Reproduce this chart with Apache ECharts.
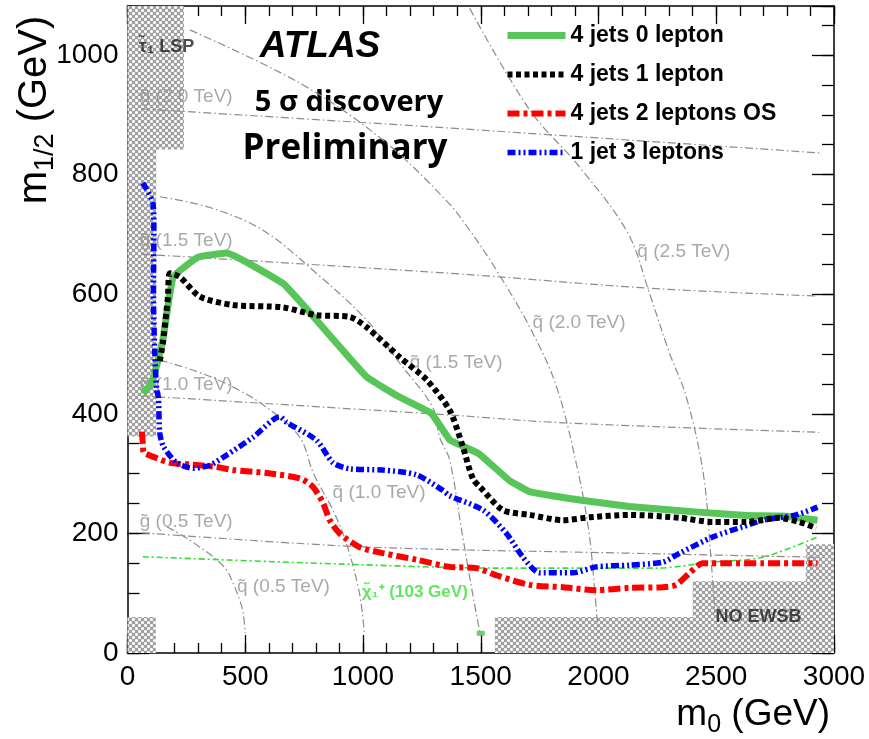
<!DOCTYPE html>
<html>
<head>
<meta charset="utf-8">
<script src="https://cdn.jsdelivr.net/npm/echarts@6/dist/echarts.min.js"></script>
<style>
  html, body { margin: 0; padding: 0; background: #ffffff; }
  #chart { width: 869px; height: 739px; }
</style>
</head>
<body>
<div id="chart"></div>
<script>
// ---- 5 sigma discovery reach in the (m0, m1/2) plane, points are [m0, m1/2] in GeV ----
const jets4Lep0 = [[65,435],[103,451],[150,523],[194,629],[300,662],[420,669],[660,618],[775,569],[1015,462],[1155,428],[1290,401],[1370,356],[1490,334],[1620,289],[1707,270],[1920,256],[2130,245],[2410,236],[2630,230],[2780,229],[2930,222]];
const jets4Lep1 = [[137,488],[150,518],[165,570],[172,596],[180,635],[222,629],[307,596],[448,582],[660,578],[802,565],[944,562],[1015,545],[1155,495],[1270,457],[1368,406],[1424,345],[1450,310],[1470,289],[1496,278],[1594,239],[1708,231],[1848,222],[1963,227],[2132,231],[2344,226],[2485,219],[2627,219],[2768,226],[2853,219],[2925,209]];
const jets4Lep2OS = [[61,370],[66,345],[68,336],[110,328],[180,318],[280,315],[379,311],[448,306],[591,301],[732,292],[787,278],[830,251],[859,222],[901,200],[986,177],[1084,167],[1227,156],[1368,144],[1482,142],[1566,130],[1708,114],[1850,110],[1990,105],[2132,109],[2273,110],[2330,114],[2387,134],[2443,150],[2556,150],[2698,150],[2930,150]];
const jet1Lep3 = [[65,786],[108,752],[112,700],[110,600],[116,500],[124,440],[131,428],[137,368],[153,345],[209,318],[280,309],[350,314],[421,331],[534,361],[647,395],[675,386],[802,356],[873,318],[944,308],[1085,306],[1227,298],[1339,272],[1368,263],[1510,239],[1609,200],[1678,161],[1750,134],[1891,134],[1990,144],[2132,147],[2273,152],[2345,167],[2485,194],[2612,211],[2697,222],[2839,231],[2930,244]];

// ---- iso-mass contours (gluino, squark) and the chargino LEP bound ----
const gluino05 = [[60,201],[870,180],[1368,173],[2000,168],[2940,160]];
const gluino10 = [[60,430],[1368,398],[1848,385],[2937,369]];
const gluino15 = [[60,667],[1368,635],[2216,610],[2925,597]];
const gluino20 = [[60,910],[1283,880],[2950,836]];
const squark05 = [[167,211],[252,192],[307,177],[363,161],[420,139],[448,117],[476,89],[491,67],[500,33]];
const squark10 = [[137,490],[300,470],[447,445],[590,411],[731,361],[790,300],[872,239],[929,184],[985,100],[1006,33]];
const squark15 = [[137,763],[350,745],[575,707],[802,635],[1015,557],[1155,485],[1296,411],[1325,361],[1368,323],[1421,200],[1465,100],[1497,33]];
const squark20 = [[265,1042],[732,953],[1084,858],[1353,757],[1453,707],[1567,640],[1708,545],[1822,445],[1915,300],[1960,200],[1985,100],[1998,40]];
const squark25 = [[1453,1078],[1708,908],[1919,813],[2125,702],[2216,602],[2301,502],[2373,428],[2445,300],[2478,156],[2494,67]];
const chargino = [[65,161],[888,149],[1566,142],[2246,142],[2484,152],[2697,160],[2930,194]];
const charginoMark = [[1500,33]];

// ---- excluded regions (stau LSP, no EWSB, LEP) ----
const hatchRegions = [
  [[0,1082],[240,1082],[240,842],[122,842],[122,362],[0,362]],
  [[0,0],[120,0],[120,60],[0,60]],
  [[1560,0],[3000,0],[3000,182],[2880,182],[2880,120],[2400,120],[2400,60],[1560,60]]
];

// ---- annotations: [m0, m1/2, text] ----
const contourLabels = [
  [52, 930, 'g\u0303 (2.0 TeV)'],
  [52, 690, 'g\u0303 (1.5 TeV)'],
  [52, 448, 'g\u0303 (1.0 TeV)'],
  [52, 219, 'g\u0303 (0.5 TeV)'],
  [465, 110, 'q\u0303 (0.5 TeV)'],
  [871, 268, 'q\u0303 (1.0 TeV)'],
  [1198, 485, 'q\u0303 (1.5 TeV)'],
  [1720, 553, 'q\u0303 (2.0 TeV)'],
  [2165, 671, 'q\u0303 (2.5 TeV)']
];
const regionLabels = [
  [48, 1013, '\u03c4\u0303\u2081 LSP'],
  [2497, 60, 'NO EWSB']
];
const charginoLabel = [[995, 102, '\u03c7\u0303\u2081\u207a (103 GeV)']];

const seriesNames = ['4 jets 0 lepton', '4 jets 1 lepton', '4 jets 2 leptons OS', '1 jet 3 leptons'];

const FONT = 'Liberation Sans, Arial, sans-serif';

function hatchPattern() {
  const c = document.createElement('canvas');
  c.width = 6; c.height = 6;
  const g = c.getContext('2d');
  g.fillStyle = '#a0a0a0';
  g.fillRect(0, 0, 6, 6);
  g.fillStyle = '#ffffff';
  [[1.5, 1.5], [4.5, 4.5]].forEach(function (p) {
    g.beginPath();
    g.arc(p[0], p[1], 1.55, 0, Math.PI * 2);
    g.fill();
  });
  return c;
}
const hatchFill = { image: hatchPattern(), repeat: 'repeat' };

const chart = echarts.init(document.getElementById('chart'), null, { renderer: 'canvas' });

function plain(v) { return String(v); }

function axisX(pos, interval, tickLen, withLabels, withLine) {
  return {
    type: 'value', min: 0, max: 3000, interval: interval, position: pos,
    axisLine: { show: withLine, onZero: false, lineStyle: { color: '#000', width: 1.5 } },
    axisTick: { show: true, inside: true, length: tickLen, lineStyle: { color: '#000', width: 1.3 } },
    axisLabel: { show: withLabels, formatter: plain, fontFamily: FONT, fontSize: 28, color: '#000', margin: 10 },
    splitLine: { show: false }
  };
}
function axisY(pos, interval, tickLen, withLabels, withLine) {
  return {
    type: 'value', min: 0, max: 1082, interval: interval, position: pos,
    axisLine: { show: withLine, onZero: false, lineStyle: { color: '#000', width: 1.5 } },
    axisTick: { show: true, inside: true, length: tickLen, lineStyle: { color: '#000', width: 1.3 } },
    axisLabel: { show: withLabels, formatter: plain, fontFamily: FONT, fontSize: 28, color: '#000', margin: 9, showMaxLabel: false },
    splitLine: { show: false }
  };
}

function contour(data) {
  return {
    type: 'line', data: data, smooth: 0.35, symbol: 'none', silent: true, z: 2,
    lineStyle: { color: '#8c8c8c', width: 1.2, type: [8, 3, 1.5, 3] }
  };
}

const option = {
  animation: false,
  backgroundColor: '#ffffff',
  grid: { left: 127.5, right: 35, top: 6, bottom: 86, outerBoundsMode: 'none', containLabel: false },
  xAxis: [
    axisX('bottom', 500, 18, true, true),
    axisX('bottom', 100, 10, false, false),
    axisX('top', 500, 18, false, true),
    axisX('top', 100, 10, false, false)
  ],
  yAxis: [
    axisY('left', 200, 22, true, true),
    axisY('left', 50, 12, false, false),
    axisY('right', 200, 22, false, true),
    axisY('right', 50, 12, false, false)
  ],
  legend: {
    data: seriesNames,
    orient: 'vertical',
    left: 499, top: 19,
    itemWidth: 58, itemHeight: 14, itemGap: 16,
    itemStyle: { opacity: 0 },
    lineStyle: { width: 'inherit' },
    textStyle: { fontFamily: FONT, fontWeight: 'bold', fontSize: 23, color: '#000' }
  },
  graphic: [
    { type: 'text', x: 320, y: 47, style: { text: 'ATLAS', font: 'italic bold 37px ' + FONT, fill: '#000', align: 'center', verticalAlign: 'middle' } },
    { type: 'text', x: 349, y: 103, style: { text: '5 \u03c3 discovery', font: 'bold 29px "Open Sans", sans-serif', fill: '#000', align: 'center', verticalAlign: 'middle' } },
    { type: 'text', x: 345, y: 149, style: { text: 'Preliminary', font: 'bold 35px "Open Sans", sans-serif', fill: '#000', align: 'center', verticalAlign: 'middle' } },
    { type: 'text', x: 830, y: 715, style: {
        text: '{m|m}{s|0}{m| (GeV)}', align: 'right', verticalAlign: 'middle',
        rich: {
          m: { font: '37px ' + FONT, fill: '#000', lineHeight: 46, verticalAlign: 'middle' },
          s: { font: '25px ' + FONT, fill: '#000', lineHeight: 46, verticalAlign: 'bottom' }
        } } },
    { type: 'text', x: 35, y: 110, rotation: Math.PI / 2, style: {
        text: '{m|m}{s|1/2}{m| (GeV)}', align: 'center', verticalAlign: 'middle',
        rich: {
          m: { font: '40px ' + FONT, fill: '#000', lineHeight: 48, verticalAlign: 'middle' },
          s: { font: '27px ' + FONT, fill: '#000', lineHeight: 48, verticalAlign: 'bottom' }
        } } }
  ],
  series: [
    {
      type: 'custom', silent: true, z: 1,
      data: hatchRegions.map(function (r, i) { return [r[0][0], r[0][1], i]; }),
      renderItem: function (params, api) {
        const poly = hatchRegions[params.dataIndex].map(function (p) { return api.coord(p); });
        return { type: 'polygon', shape: { points: poly }, style: { fill: hatchFill, stroke: null } };
      }
    },
    contour(gluino05), contour(gluino10), contour(gluino15), contour(gluino20),
    contour(squark05), contour(squark10), contour(squark15), contour(squark20), contour(squark25),
    {
      type: 'line', data: chargino, smooth: 0.3, symbol: 'none', silent: true, z: 3,
      lineStyle: { color: '#2fe02f', width: 1.6, type: [6, 3, 2, 3] }
    },
    {
      type: 'scatter', data: charginoMark, symbol: 'rect', symbolSize: [8, 5], silent: true, z: 3,
      itemStyle: { color: '#4cc04c' }
    },
    {
      type: 'scatter', data: contourLabels, symbolSize: 0, silent: true, z: 4,
      label: { show: true, position: 'right', distance: 0, formatter: function (p) { return p.data[2]; },
        fontFamily: FONT, fontSize: 19, color: '#939393' }
    },
    {
      type: 'scatter', data: regionLabels, symbolSize: 0, silent: true, z: 4,
      label: { show: true, position: 'right', distance: 0, formatter: function (p) { return p.data[2]; },
        fontFamily: FONT, fontSize: 18, fontWeight: 'bold', color: '#222' }
    },
    {
      type: 'scatter', data: charginoLabel, symbolSize: 0, silent: true, z: 4,
      label: { show: true, position: 'right', distance: 0, formatter: function (p) { return p.data[2]; },
        fontFamily: FONT, fontSize: 17, fontWeight: 'bold', color: '#3ae03a' }
    },
    {
      name: seriesNames[0], type: 'line', data: jets4Lep0, smooth: 0.1, symbol: 'none', z: 6,
      lineStyle: { color: '#58c558', width: 7, cap: 'butt', join: 'round' }, itemStyle: { color: '#58c558' }
    },
    {
      name: seriesNames[1], type: 'line', data: jets4Lep1, smooth: 0.25, symbol: 'none', z: 7,
      lineStyle: { color: '#000000', width: 6, type: [5, 3.5], cap: 'butt' }, itemStyle: { color: '#000000' }
    },
    {
      name: seriesNames[2], type: 'line', data: jets4Lep2OS, smooth: 0.25, symbol: 'none', z: 6,
      lineStyle: { color: '#ff0000', width: 6, type: [12, 4, 4, 4], cap: 'butt' }, itemStyle: { color: '#ff0000' }
    },
    {
      name: seriesNames[3], type: 'line', data: jet1Lep3, smooth: 0.25, symbol: 'none', z: 6,
      lineStyle: { color: '#0000ff', width: 5.5, type: [8, 3, 2, 3, 2, 3], cap: 'butt' }, itemStyle: { color: '#0000ff' }
    }
  ]
};

chart.setOption(option);
</script>
</body>
</html>
